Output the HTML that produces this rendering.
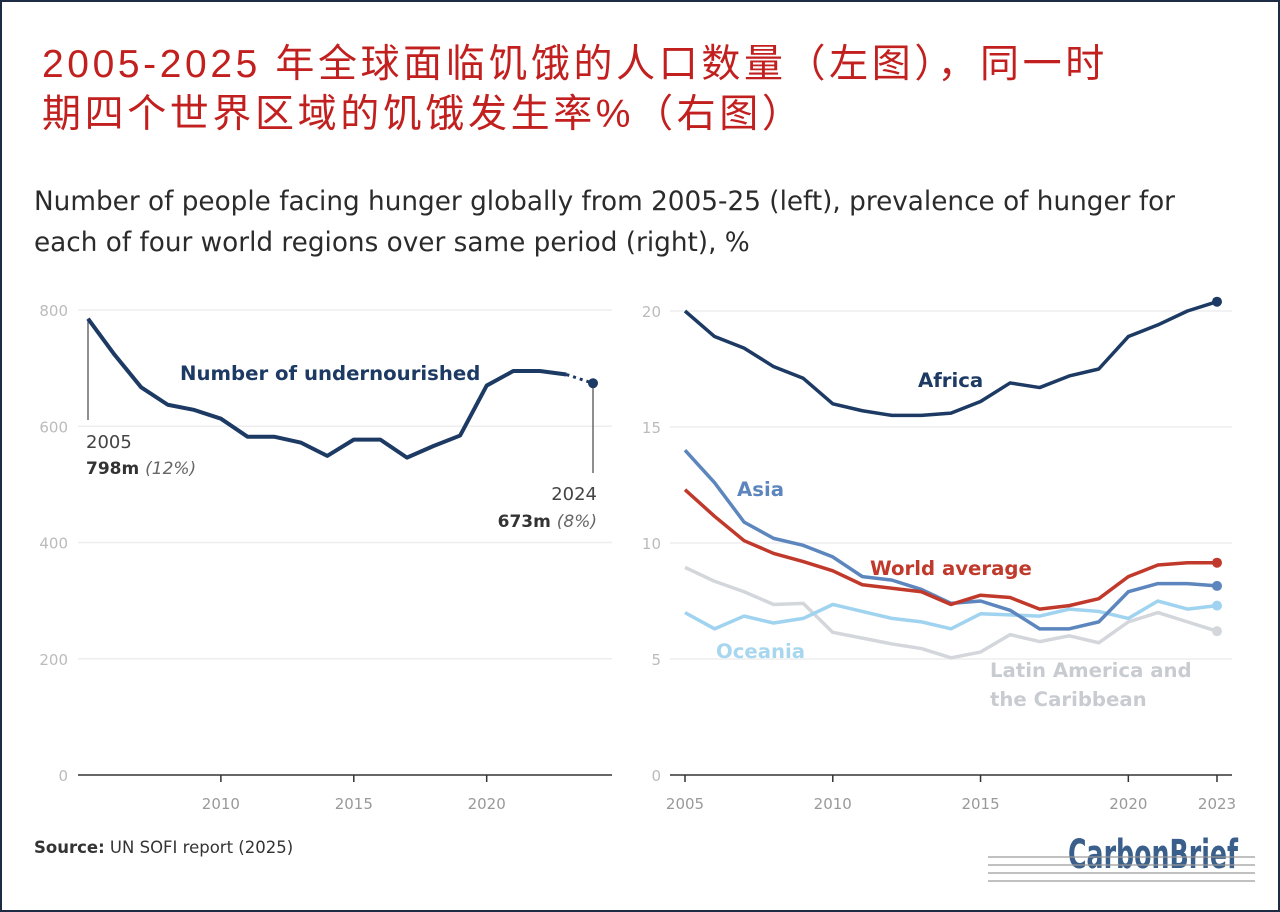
<!DOCTYPE html>
<html><head><meta charset="utf-8">
<style>
html,body{margin:0;padding:0;}
body{width:1280px;height:912px;position:relative;background:#fff;overflow:hidden;font-family:"DejaVu Sans","Noto Sans CJK SC",sans-serif;}
.frame{position:absolute;left:0;top:0;width:1276px;height:908px;border:2px solid #1d2c44;}
.cn{position:absolute;left:42px;top:40px;color:#c1201f;font-size:39px;letter-spacing:3.6px;line-height:50px;font-family:"Liberation Sans","Noto Sans CJK SC",sans-serif;white-space:nowrap;}
.en{position:absolute;left:34px;top:182px;color:#2b2b2b;font-size:26.3px;line-height:41px;white-space:nowrap;}
.src{position:absolute;left:34px;top:838px;font-size:16.5px;color:#333;}
svg text{font-family:"DejaVu Sans",sans-serif;}
</style></head><body>
<div class="frame"></div>
<div class="cn">2005-2025 年全球面临饥饿的人口数量（左图），同一时<br>期四个世界区域的饥饿发生率%（右图）</div>
<div class="en">Number of people facing hunger globally from 2005-25 (left), prevalence of hunger for<br>each of four world regions over same period (right), %</div>
<div class="src"><b>Source:</b> UN SOFI report (2025)</div>
<svg id="chart" width="1280" height="912" style="position:absolute;left:0;top:0"></svg>
<script>
const leftYears=[2005,2006,2007,2008,2009,2010,2011,2012,2013,2014,2015,2016,2017,2018,2019,2020,2021,2022,2023,2024];
const undernourished=[785,723,667,637,628,613,582,582,572,549,577,577,546,566,584,670,695,695,689,674];
const leftYTicks=[0,200,400,600,800];
const leftXTicks=[2010,2015,2020];
const rightYears=[2005,2006,2007,2008,2009,2010,2011,2012,2013,2014,2015,2016,2017,2018,2019,2020,2021,2022,2023];
const africa=[20.0,18.9,18.4,17.6,17.1,16.0,15.7,15.5,15.5,15.6,16.1,16.9,16.7,17.2,17.5,18.9,19.4,20.0,20.4];
const asia=[14.0,12.6,10.9,10.2,9.9,9.4,8.55,8.4,8.0,7.4,7.5,7.1,6.3,6.3,6.6,7.9,8.25,8.25,8.15];
const world=[12.3,11.15,10.1,9.55,9.2,8.8,8.2,8.05,7.9,7.35,7.75,7.65,7.15,7.3,7.6,8.55,9.05,9.15,9.15];
const oceania=[7.0,6.3,6.85,6.55,6.75,7.35,7.05,6.75,6.6,6.3,6.95,6.9,6.85,7.15,7.05,6.75,7.5,7.15,7.3];
const latam=[8.95,8.35,7.9,7.35,7.4,6.15,5.9,5.65,5.45,5.05,5.3,6.05,5.75,6.0,5.7,6.6,7.0,6.6,6.2];
const rightYTicks=[0,5,10,15,20];
const rightXTicks=[2005,2010,2015,2020,2023];

const svg=document.getElementById('chart');
const NS='http://www.w3.org/2000/svg';
function mk(tag,attrs,txt){const e=document.createElementNS(NS,tag);for(const k in attrs)e.setAttribute(k,attrs[k]);if(txt!==undefined)e.textContent=txt;svg.appendChild(e);return e;}
const lx=y=>88+(y-2005)*(593-88)/19;
const ly=v=>775-v*(775-310)/800;
const rx=y=>685+(y-2005)*(1217-685)/18;
const ry=v=>775-v*(775-311)/20;

leftYTicks.forEach(t=>{
  if(t>0){const g=mk('line',{x1:78,x2:612,y1:ly(t),y2:ly(t),stroke:'#eeeeee','stroke-width':1.5});
  
  }
  const tx=mk('text',{x:68,y:ly(t)+6,'text-anchor':'end','font-size':15,fill:'#bbb'},t);
  
  
});
let ax=mk('line',{x1:78,x2:612,y1:775,y2:775,stroke:'#333','stroke-width':1.5});


leftXTicks.forEach(t=>{
  mk('line',{x1:lx(t),x2:lx(t),y1:775,y2:782,stroke:'#333','stroke-width':1.5});
  const tx=mk('text',{x:lx(t),y:809,'text-anchor':'middle','font-size':15,fill:'#999'},t);
  
  
});
mk('line',{x1:lx(2005),x2:lx(2005),y1:ly(undernourished[0]),y2:420,stroke:'#444','stroke-width':1.2});
const last=undernourished.length-1;
mk('line',{x1:lx(2024),x2:lx(2024),y1:ly(undernourished[last]),y2:473,stroke:'#444','stroke-width':1.2});
let a1=mk('text',{x:86,y:448,'font-size':18,fill:'#444'},'2005');


let a2=mk('text',{x:86,y:474,'font-size':17,fill:'#333','font-weight':'bold'});


a2.innerHTML='798m <tspan font-weight="normal" font-style="italic" fill="#666">(12%)</tspan>';
let a3=mk('text',{x:597,y:500,'text-anchor':'end','font-size':18,fill:'#444'},'2024');


let a4=mk('text',{x:597,y:527,'text-anchor':'end','font-size':17,fill:'#333','font-weight':'bold'});


a4.innerHTML='673m <tspan font-weight="normal" font-style="italic" fill="#666">(8%)</tspan>';
let d='';for(let i=0;i<last;i++)d+=(i?'L':'M')+lx(leftYears[i])+','+ly(undernourished[i]);
let ln=mk('path',{d:d,fill:'none',stroke:'#1c3a63','stroke-width':4,'stroke-linejoin':'round'});


let dl=mk('path',{d:'M'+lx(leftYears[last-1])+','+ly(undernourished[last-1])+'L'+lx(leftYears[last])+','+ly(undernourished[last]),stroke:'#1c3a63','stroke-width':3,'stroke-dasharray':'3 4'});


let dp=mk('circle',{cx:lx(2024),cy:ly(undernourished[last]),r:5,fill:'#1c3a63'});


let ll=mk('text',{x:180,y:380,'font-size':19.7,'font-weight':'bold',fill:'#1c3a63'},'Number of undernourished');



rightYTicks.forEach(t=>{
  if(t>0){const g=mk('line',{x1:670,x2:1232,y1:ry(t),y2:ry(t),stroke:'#eeeeee','stroke-width':1.5});
  
  }
  const tx=mk('text',{x:661,y:ry(t)+6,'text-anchor':'end','font-size':15,fill:'#bbb'},t);
  
  
});
ax=mk('line',{x1:670,x2:1232,y1:775,y2:775,stroke:'#333','stroke-width':1.5});


rightXTicks.forEach(t=>{
  mk('line',{x1:rx(t),x2:rx(t),y1:775,y2:782,stroke:'#333','stroke-width':1.5});
  const tx=mk('text',{x:rx(t),y:809,'text-anchor':'middle','font-size':15,fill:'#999'},t);
  
  
});
function series(vals,color,w,name){
  let p='';vals.forEach((v,i)=>p+=(i?'L':'M')+rx(rightYears[i])+','+ry(v));
  const e=mk('path',{d:p,fill:'none',stroke:color,'stroke-width':w,'stroke-linejoin':'round'});
  
  
  const c=mk('circle',{cx:rx(rightYears[vals.length-1]),cy:ry(vals[vals.length-1]),r:5,fill:color});
  
  
}
series(latam,'#d3d7dc',3.5,'latin-america');
series(oceania,'#9fd3ef',3.5,'oceania');
series(asia,'#5c86bd',3.5,'asia');
series(world,'#c0392b',3.5,'world-average');
series(africa,'#1c3a63',3.5,'africa');
function lab(x,y,t,c,name){const e=mk('text',{x:x,y:y,'font-size':19.7,'font-weight':'bold',fill:c},t);

}
lab(918,387,'Africa','#1c3a63','africa-label');
lab(737,496,'Asia','#5c86bd','asia-label');
lab(870,575,'World average','#c0392b','world-average-label');
lab(716,658,'Oceania','#a9d6ef','oceania-label');
lab(990,677,'Latin America and','#c8ccd1','latin-america-label');
lab(990,706,'the Caribbean','#c8ccd1','latin-america-label-2');
let lg=mk('text',{x:1068,y:868,'font-size':40,'font-weight':'bold',fill:'#3a5f8a','textLength':170,'lengthAdjust':'spacingAndGlyphs'},'CarbonBrief');


[857,865,873,881].forEach(y=>mk('line',{x1:988,x2:1255,y1:y,y2:y,stroke:'#999','stroke-width':2,opacity:0.6}));
</script>
</body></html>
